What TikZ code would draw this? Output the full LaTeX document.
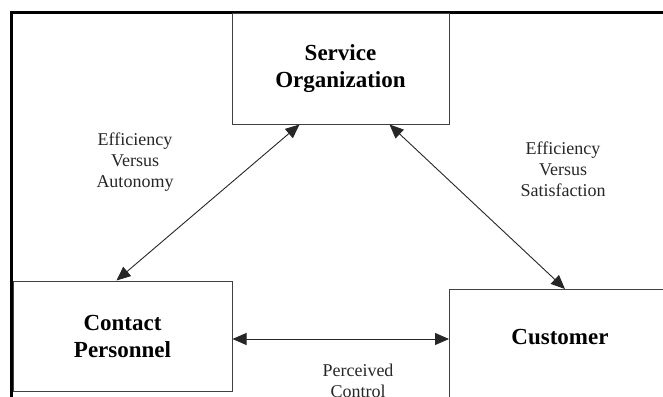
\documentclass[tikz,border=0pt]{standalone}
\usepackage{fontspec}
\setmainfont{Liberation Serif}
\usetikzlibrary{arrows.meta,calc}
\begin{document}
\begin{tikzpicture}[x=1pt,y=-1pt,
  entity/.style={draw=black!75,line width=1pt,rectangle,inner sep=0pt,
    font=\fontsize{23}{27}\selectfont\bfseries,align=center},
  tradeoff/.style={font=\fontsize{18}{21}\selectfont,text=black!85,align=center,inner sep=0pt},
  link/.style={draw=black!85,line width=0.9pt,
    {Triangle[length=14pt,width=12pt]}-{Triangle[length=14pt,width=12pt]}}]
  \useasboundingbox (0,0) rectangle (663,396);
  \clip (0,0) rectangle (663,396);
  % outer frame (top and left edges)
  \draw[line width=3pt] (11,800) -- (11,12.5) -- (700,12.5);
  % the three parties
  \node[entity,minimum width=217pt,minimum height=110pt] (svc) at (340.5,69)
    {Service\\Organization};
  \node[entity,minimum width=219pt,minimum height=110pt] (cp) at (122.5,336)
    {Contact\\Personnel};
  \node[entity,minimum width=224pt,minimum height=130pt,anchor=north west] (cust) at (449,289) {};
  \node[font=\fontsize{23}{27}\selectfont\bfseries,inner sep=0pt] (custtxt) at (560,337) {Customer};
  % arrow end points on the box borders
  \coordinate (svcL) at ($(svc.south west)+(68,0)$);
  \coordinate (svcR) at ($(svc.south west)+(158,0)$);
  \coordinate (cpT) at ($(cp.north west)+(104,0)$);
  \coordinate (custT) at ($(cust.north west)+(116,0)$);
  \coordinate (cpE) at ($(cp.east)+(0,3)$);
  % relationships
  \draw[link] (svcL) -- (cpT);
  \draw[link] (svcR) -- (custT);
  \draw[link] (cpE) -- (cust.west |- cpE);
  % tension labels
  \node[tradeoff] (lblL) at (135,162) {Efficiency\\Versus\\Autonomy};
  \node[tradeoff] (lblR) at (563,169) {Efficiency\\Versus\\Satisfaction};
  \node[tradeoff,anchor=north] (lblB) at (358,364) {Perceived\\Control};
\end{tikzpicture}
\end{document}
